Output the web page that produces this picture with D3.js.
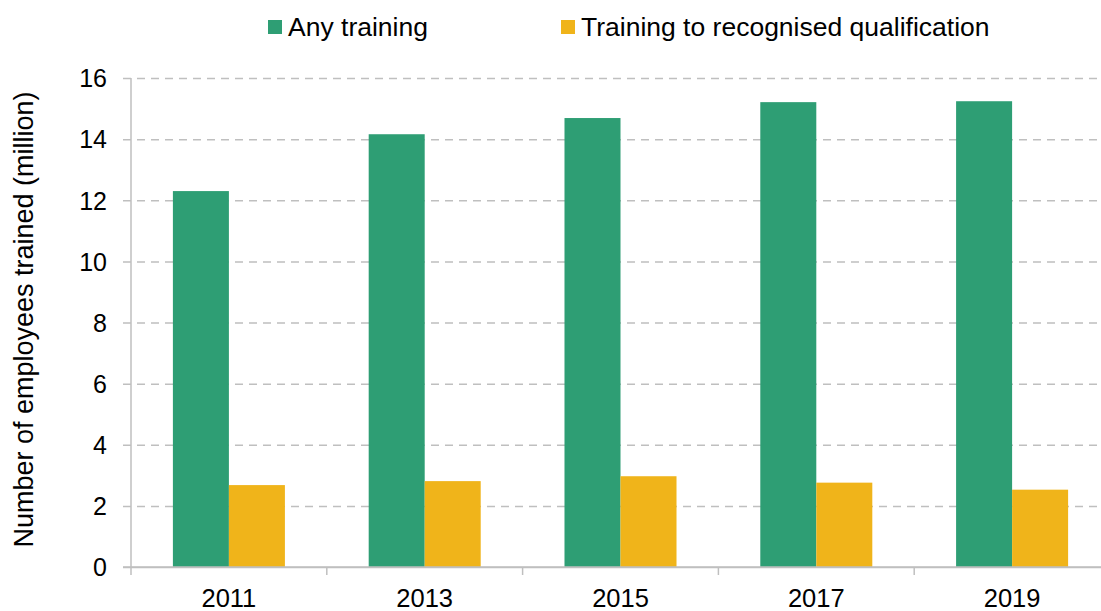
<!DOCTYPE html>
<html>
<head>
<meta charset="utf-8">
<script src="https://cdn.jsdelivr.net/npm/d3@7"></script>
<style>
  body { margin: 0; background: #fff; }
  svg { font-family: 'Liberation Sans', Arial, sans-serif; }
</style>
</head>
<body>
<div id="graf"></div>
<script>
// -- Datos
years = ['2011', '2013', '2015', '2017', '2019']
series = ['Any training', 'Training to recognised qualification']
anyTraining = [12.30, 14.16, 14.69, 15.21, 15.24]
recognisedQual = [2.68, 2.81, 2.97, 2.76, 2.53]
yTicks = [0, 2, 4, 6, 8, 10, 12, 14, 16]
colores = ['#2E9E74', '#F0B41A']

// -- Configuración del canvas
ancho_total = 1101
alto_total = 611
margins = {top: 78, left: 131, bottom: 44}
ancho = 979
alto = alto_total - margins.top - margins.bottom

svg = d3.select('#graf').append('svg')
        .attr('width', ancho_total)
        .attr('height', alto_total)

g = svg.append('g')
       .attr('transform', `translate(${margins.left}, ${margins.top})`)

// -- Escaladores
x0 = d3.scaleBand().domain(years).range([0, ancho]).padding(0)
x1 = d3.scaleBand().domain(series).range([0, x0.bandwidth()]).paddingInner(0).paddingOuter(0.748)
y = d3.scaleLinear().domain([0, 16]).range([alto, 0])
color = d3.scaleOrdinal().domain(series).range(colores)

// -- Grid (líneas punteadas)
yAxisGrid = d3.axisLeft(y)
              .tickValues(yTicks)
              .tickSizeOuter(0)
              .tickFormat(d => d)
gy = g.append('g').call(yAxisGrid)
gy.select('.domain').remove()
gy.selectAll('.tick line')
  .attr('x1', -8)
  .attr('x2', ancho)
  .attr('stroke', '#BFBFBF')
  .attr('stroke-width', 1.5)
  .attr('stroke-dasharray', d => d === 0 ? null : '8,6')
gy.selectAll('.tick text')
  .attr('x', -24)
  .attr('dy', '0.35em')
  .attr('font-size', '25px')
  .attr('font-family', "'Liberation Sans', Arial, sans-serif")
  .attr('fill', '#000')

// -- Barras
datos = years.map((yr, i) => ({year: yr, valores: [
  {serie: series[0], v: anyTraining[i]},
  {serie: series[1], v: recognisedQual[i]}
]}))

grupos = g.selectAll('.grupo')
          .data(datos)
          .enter().append('g')
          .attr('transform', d => `translate(${x0(d.year)},0)`)
grupos.selectAll('rect')
      .data(d => d.valores)
      .enter().append('rect')
      .attr('x', d => x1(d.serie))
      .attr('y', d => y(d.v))
      .attr('width', x1.bandwidth())
      .attr('height', d => alto - y(d.v))
      .attr('fill', d => color(d.serie))

// -- Eje X
g.append('line')
  .attr('x1', -8).attr('x2', ancho)
  .attr('y1', alto).attr('y2', alto)
  .attr('stroke', '#BFBFBF')
  .attr('stroke-width', 1.5)
g.append('line')
  .attr('x1', 0).attr('x2', 0)
  .attr('y1', 0).attr('y2', alto + 8)
  .attr('stroke', '#BFBFBF')
  .attr('stroke-width', 1.5)
g.selectAll('.xtick')
  .data(years.slice(1))
  .enter().append('line')
  .attr('x1', d => x0(d)).attr('x2', d => x0(d))
  .attr('y1', alto).attr('y2', alto + 8)
  .attr('stroke', '#BFBFBF')
  .attr('stroke-width', 1.5)
g.selectAll('.xlabel')
  .data(years)
  .enter().append('text')
  .attr('x', d => x0(d) + x0.bandwidth() / 2)
  .attr('y', alto + 40)
  .attr('text-anchor', 'middle')
  .attr('font-size', '25.5px')
  .text(d => d)

// -- Título eje Y
svg.append('text')
   .attr('transform', `translate(33, ${margins.top + alto / 2 - 3}) rotate(-90)`)
   .attr('text-anchor', 'middle')
   .attr('font-size', '27px')
   .text('Number of employees trained (million)')

// -- Leyenda
leyX = [268, 561]
series.forEach((s, i) => {
  svg.append('rect')
     .attr('x', leyX[i]).attr('y', 20)
     .attr('width', 14).attr('height', 14)
     .attr('fill', color(s))
  svg.append('text')
     .attr('x', leyX[i] + 20)
     .attr('y', 36)
     .attr('font-size', '26.5px')
     .text(s)
})
</script>
</body>
</html>
